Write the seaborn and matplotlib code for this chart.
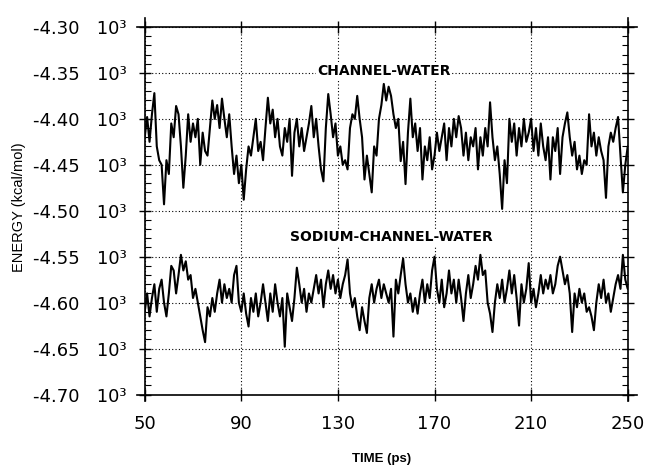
import matplotlib
matplotlib.use("Agg")
import matplotlib.pyplot as plt
import matplotlib.ticker as mticker
import numpy as np
import pandas as pd
import seaborn as sns

# time axis (ps), one sample per ps
time_ps = list(range(50, 251))

# energies in units of 10^3 kcal/mol
channel_water = [
    -4.420, -4.398, -4.425, -4.395, -4.372, -4.430, -4.445, -4.450, -4.493, -4.445,
    -4.460, -4.405, -4.420, -4.386, -4.395, -4.430, -4.475, -4.440, -4.395, -4.425,
    -4.405, -4.420, -4.400, -4.450, -4.415, -4.435, -4.440, -4.410, -4.380, -4.400,
    -4.385, -4.410, -4.378, -4.400, -4.420, -4.395, -4.430, -4.460, -4.440, -4.470,
    -4.450, -4.488, -4.455, -4.430, -4.440, -4.420, -4.400, -4.435, -4.425, -4.445,
    -4.410, -4.377, -4.405, -4.390, -4.420, -4.400, -4.430, -4.440, -4.410, -4.425,
    -4.400, -4.462, -4.415, -4.400, -4.430, -4.410, -4.435, -4.420, -4.405, -4.386,
    -4.420, -4.400, -4.430, -4.455, -4.468, -4.410, -4.373, -4.395, -4.420, -4.405,
    -4.440, -4.430, -4.450, -4.445, -4.455, -4.410, -4.395, -4.400, -4.375, -4.400,
    -4.420, -4.466, -4.440, -4.460, -4.480, -4.430, -4.440, -4.400, -4.385, -4.362,
    -4.380, -4.365, -4.375, -4.395, -4.410, -4.400, -4.446, -4.425, -4.471, -4.415,
    -4.378, -4.420, -4.405, -4.435, -4.410, -4.466, -4.430, -4.445, -4.420, -4.455,
    -4.440, -4.415, -4.435, -4.420, -4.405, -4.445, -4.410, -4.430, -4.400, -4.420,
    -4.397, -4.410, -4.440, -4.415, -4.445, -4.420, -4.430, -4.410, -4.455, -4.420,
    -4.440, -4.410, -4.430, -4.382, -4.420, -4.445, -4.430, -4.460, -4.498, -4.445,
    -4.470, -4.400, -4.425, -4.405, -4.440, -4.410, -4.430, -4.400, -4.425, -4.415,
    -4.400, -4.435, -4.410, -4.440, -4.405, -4.430, -4.445, -4.420, -4.466, -4.420,
    -4.435, -4.410, -4.460, -4.420, -4.405, -4.393, -4.420, -4.440, -4.425, -4.455,
    -4.440, -4.460, -4.445, -4.450, -4.395, -4.430, -4.415, -4.440, -4.420, -4.435,
    -4.445, -4.486, -4.430, -4.415, -4.425, -4.410, -4.398, -4.440, -4.480, -4.450,
    -4.430,
]

sodium_channel_water = [
    -4.610, -4.590, -4.615, -4.595, -4.580, -4.610, -4.585, -4.575, -4.600, -4.615,
    -4.590, -4.560, -4.565, -4.590, -4.570, -4.548, -4.565, -4.555, -4.575, -4.570,
    -4.595, -4.585, -4.600, -4.615, -4.630, -4.643, -4.605, -4.615, -4.595, -4.610,
    -4.590, -4.575, -4.600, -4.580, -4.595, -4.585, -4.600, -4.570, -4.560, -4.600,
    -4.610, -4.590, -4.612, -4.626, -4.595, -4.610, -4.590, -4.615, -4.600, -4.580,
    -4.600, -4.620, -4.590, -4.610, -4.580, -4.600, -4.615, -4.595, -4.648, -4.590,
    -4.605, -4.620, -4.595, -4.562, -4.580, -4.600, -4.585, -4.610, -4.590, -4.600,
    -4.585, -4.570, -4.590, -4.575, -4.605, -4.580, -4.565, -4.585, -4.570, -4.590,
    -4.575, -4.595, -4.580, -4.570, -4.553, -4.590, -4.605, -4.595, -4.615, -4.630,
    -4.605, -4.620, -4.633, -4.595, -4.580, -4.600, -4.585, -4.575, -4.595, -4.580,
    -4.590, -4.600, -4.585, -4.637, -4.575, -4.590, -4.570, -4.552, -4.580, -4.600,
    -4.590, -4.610, -4.595, -4.612, -4.590, -4.575, -4.600, -4.580, -4.595, -4.565,
    -4.550, -4.585, -4.600, -4.575, -4.605, -4.590, -4.565, -4.590, -4.575, -4.600,
    -4.575, -4.595, -4.620, -4.590, -4.570, -4.595, -4.580, -4.560, -4.575, -4.548,
    -4.570, -4.565, -4.600, -4.612, -4.632, -4.600, -4.580, -4.595, -4.575, -4.600,
    -4.585, -4.565, -4.590, -4.570, -4.595, -4.625, -4.580, -4.600, -4.585, -4.557,
    -4.600, -4.585, -4.605, -4.590, -4.570, -4.590, -4.575, -4.585, -4.570, -4.590,
    -4.580, -4.560, -4.550, -4.565, -4.580, -4.570, -4.590, -4.632, -4.590, -4.605,
    -4.585, -4.600, -4.590, -4.610, -4.605, -4.615, -4.630, -4.600, -4.580, -4.595,
    -4.575, -4.600, -4.590, -4.610, -4.595, -4.580, -4.570, -4.585, -4.548, -4.575,
    -4.585,
]

x_ticks = [50, 90, 130, 170, 210, 250]
y_ticks = [-4.70, -4.65, -4.60, -4.55, -4.50, -4.45, -4.40, -4.35, -4.30]


def main():
    sns.set_style("ticks")
    plt.rcParams["font.family"] = ["DejaVu Sans"]
    plt.rcParams["text.color"] = "black"
    plt.rcParams["axes.labelcolor"] = "black"
    plt.rcParams["xtick.color"] = "black"
    plt.rcParams["ytick.color"] = "black"

    df = pd.DataFrame({"time": time_ps,
                       "channel": channel_water,
                       "sodium": sodium_channel_water})

    fig = plt.figure(figsize=(6.46, 4.65), dpi=100)
    ax = fig.add_axes([0.224, 0.1516, 0.7477, 0.7904])

    sns.lineplot(data=df, x="time", y="channel", color="black", lw=1.5, ax=ax)
    sns.lineplot(data=df, x="time", y="sodium", color="black", lw=1.5, ax=ax)

    ax.set_xlim(50, 250)
    ax.set_ylim(-4.70, -4.30)
    ax.set_xticks(x_ticks)
    ax.set_yticks(y_ticks)
    ax.yaxis.set_minor_locator(mticker.MultipleLocator(0.01))
    ax.set_yticklabels(["%.2f   10\u00b3" % v for v in y_ticks])

    ax.grid(True, which="major", linestyle=(0, (1, 2)), color="black", lw=0.8)

    # axis lines run a little past the corners, like the original
    for s in ax.spines.values():
        s.set_linewidth(1.2)
        s.set_color("black")
    ax.spines["bottom"].set_bounds(46.8, 253.9)
    ax.spines["top"].set_bounds(46.8, 253.9)
    ax.spines["left"].set_bounds(-4.707, -4.290)
    ax.spines["right"].set_bounds(-4.707, -4.290)

    ax.tick_params(axis="both", which="major", direction="inout", length=9,
                   width=1.0, labelsize=13, top=True, right=True,
                   color="black", labelcolor="black")
    ax.tick_params(axis="y", which="minor", direction="in", length=4,
                   width=0.8, left=True, right=True)
    ax.tick_params(axis="x", which="major", pad=10.5)
    ax.tick_params(axis="y", which="major", pad=8.5)

    ax.set_xlabel("TIME (ps)", fontsize=9.5, fontweight="bold",
                  family="Liberation Sans")
    ax.xaxis.set_label_coords(0.49, -0.158)
    ax.set_ylabel("ENERGY (kcal/mol)", fontsize=10.5, family="Liberation Sans")
    ax.yaxis.set_label_coords(-0.245, 0.51)

    ax.text(149, -4.3475, "CHANNEL-WATER", ha="center", va="center",
            fontsize=10, fontweight="bold",
            bbox=dict(facecolor="white", edgecolor="none", pad=1))
    ax.text(152, -4.529, "SODIUM-CHANNEL-WATER", ha="center", va="center",
            fontsize=10, fontweight="bold",
            bbox=dict(facecolor="white", edgecolor="none", pad=1))

    plt.savefig("out.png", dpi=100)


if __name__ == "__main__":
    main()
